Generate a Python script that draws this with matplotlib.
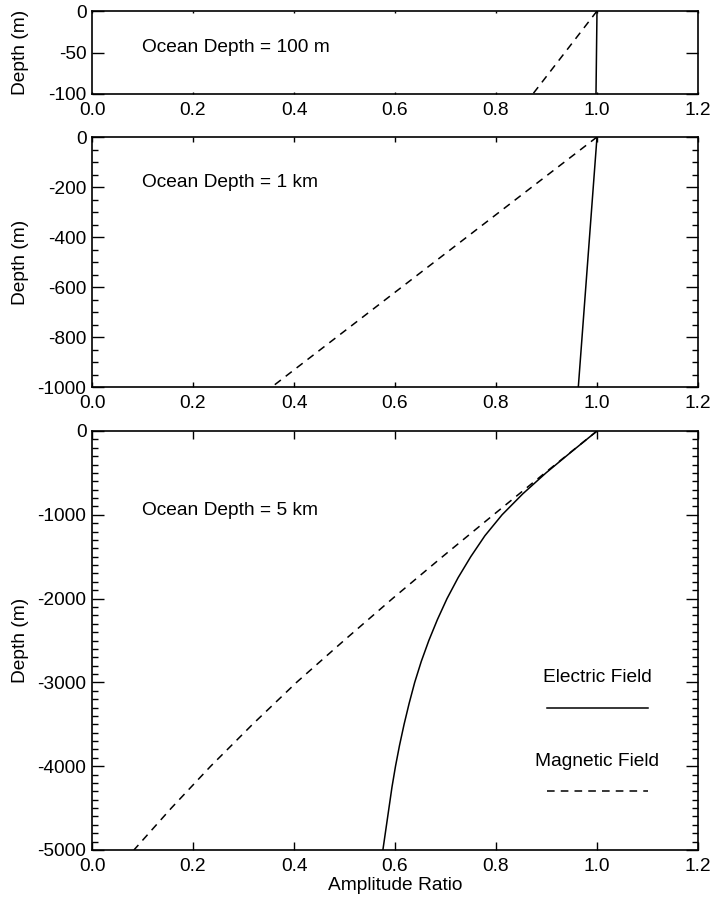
import numpy as np
import matplotlib.pyplot as plt

plt.rcParams['font.family'] = ['Liberation Sans', 'DejaVu Sans']
plt.rcParams['axes.unicode_minus'] = False

# amplitude ratio axis
ratio_ticks = [0.0, 0.2, 0.4, 0.6, 0.8, 1.0, 1.2]

# ocean depth = 100 m
depth_100 = [0, -100]
elec_100 = [1.0, 0.998]
mag_100 = [1.0, 0.873]

# ocean depth = 1 km
depth_1k = [0, -1000]
elec_1k = [1.0, 0.963]
mag_1k = [1.0, 0.356]

# ocean depth = 5 km
depth_5k_e = [0, -250, -500, -750, -1000, -1250, -1500, -1750, -2000, -2250, -2500,
              -2750, -3000, -3250, -3500, -3750, -4000, -4250, -4500, -4750, -5000]
elec_5k = [1.0, 0.949, 0.899, 0.853, 0.812, 0.778, 0.750, 0.725, 0.703, 0.684, 0.667,
           0.652, 0.639, 0.628, 0.618, 0.609, 0.601, 0.594, 0.588, 0.582, 0.576]
depth_5k_m = [0, -500, -1000, -1500, -2000, -2500, -3000, -3500, -4000, -4500, -5000]
mag_5k = [1.0, 0.897, 0.795, 0.694, 0.595, 0.499, 0.405, 0.318, 0.235, 0.157, 0.083]

W, H = 711, 898
FS = 13.8
fig = plt.figure(figsize=(W / 100, H / 100), dpi=100)

def px_axes(top, bottom, left=92, right=698):
    return fig.add_axes([left / W, 1 - bottom / H, (right - left) / W, (bottom - top) / H])

panels = [
    # top, bottom, depth range, major, minor, title baseline, title
    (11, 94, 100, 50, None, -50, 'Ocean Depth = 100 m'),
    (137, 387, 1000, 200, 50, -200, 'Ocean Depth = 1 km'),
    (431, 850, 5000, 1000, 100, -1000, 'Ocean Depth = 5 km'),
]
data = [
    (depth_100, elec_100, depth_100, mag_100),
    (depth_1k, elec_1k, depth_1k, mag_1k),
    (depth_5k_e, elec_5k, depth_5k_m, mag_5k),
]

axes = []
for (top, bot, rng, major, minor, ty, title), (de, e, dm, m) in zip(panels, data):
    ax = px_axes(top, bot)
    ax.plot(e, de, color='black', lw=1.1)
    ax.plot(m, dm, color='black', lw=1.1, dashes=(5, 4))
    ax.set_xlim(0, 1.2)
    ax.set_ylim(-rng, 0)
    ax.set_xticks(ratio_ticks)
    ax.set_xticklabels(['%.1f' % t for t in ratio_ticks])
    yt = np.arange(-rng, 1, major)
    ax.set_yticks(yt)
    ax.set_yticklabels(['%d' % t for t in yt])
    if minor:
        ax.set_yticks(np.arange(-rng, 1, minor), minor=True)
    xlen = (bot - top) * 0.02 * 0.72
    ax.tick_params(axis='x', which='both', direction='in', top=True, bottom=True,
                   length=xlen, width=1, labelsize=FS, pad=6)
    ax.tick_params(axis='y', which='major', direction='in', left=True, right=True,
                   length=8.5, width=1, labelsize=FS, pad=4)
    ax.tick_params(axis='y', which='minor', direction='in', left=True, right=True,
                   length=4.5, width=1)
    for s in ax.spines.values():
        s.set_linewidth(1.2)
    ax.set_ylabel('Depth (m)', fontsize=FS)
    ax.yaxis.set_label_coords(-0.104, 0.5)
    ax.text(0.1, ty, title, fontsize=FS, va='baseline', ha='left')
    axes.append(ax)

ax = axes[2]
ax.set_xlabel('Amplitude Ratio', fontsize=FS, labelpad=1)
ax.text(1.0, -3000, 'Electric Field', fontsize=FS, ha='center', va='baseline')
ax.plot([0.9, 1.1], [-3300, -3300], color='black', lw=1.1)
ax.text(1.0, -4000, 'Magnetic Field', fontsize=FS, ha='center', va='baseline')
ax.plot([0.9, 1.1], [-4300, -4300], color='black', lw=1.1, dashes=(5, 4))

fig.savefig('out.png', dpi=100)
